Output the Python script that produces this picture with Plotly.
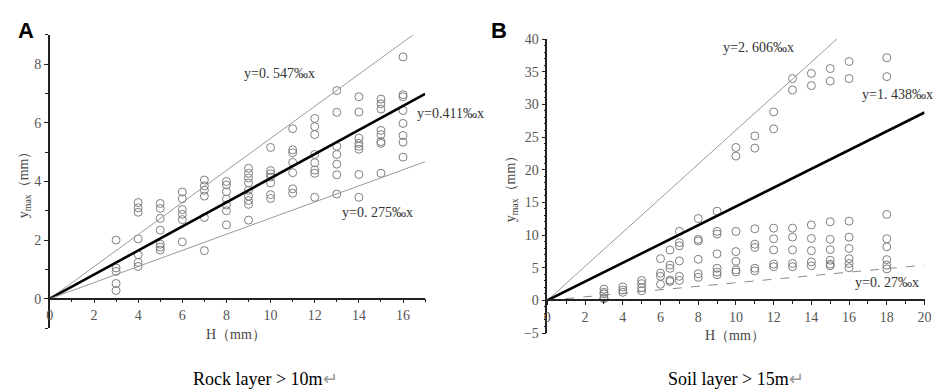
import plotly.graph_objects as go

# ---------------- data ----------------
# Panel A: Rock layer > 10m
rock_H = ([3]*5 + [4]*7 + [5]*7 + [6]*6 + [7]*6 + [8]*7 + [9]*9 + [10]*7 +
          [11]*7 + [12]*8 + [13]*7 + [14]*8 + [15]*8 + [16]*8)
rock_ymax = [2.0, 1.05, 0.93, 0.52, 0.28,
             3.28, 3.1, 2.95, 2.04, 1.5, 1.24, 1.1,
             3.25, 3.08, 2.74, 2.34, 1.86, 1.76, 1.66,
             3.64, 3.41, 3.04, 2.88, 2.70, 1.94,
             4.05, 3.85, 3.7, 3.5, 2.77, 1.64,
             4.0, 3.88, 3.65, 3.4, 3.2, 3.0, 2.52,
             4.45, 4.28, 4.12, 3.95, 3.7, 3.5, 3.35, 3.22, 2.68,
             5.16, 4.37, 4.26, 4.15, 3.95, 3.55, 3.42,
             5.8, 5.08, 4.98, 4.65, 4.3, 3.75, 3.6,
             6.15, 5.87, 5.6, 4.92, 4.64, 4.39, 4.28, 3.46,
             7.1, 6.36, 5.2, 4.92, 4.59, 4.23, 3.57,
             6.89, 6.37, 5.48, 5.3, 5.2, 5.1, 4.24, 3.46,
             6.81, 6.65, 6.47, 5.74, 5.6, 5.36, 5.3, 4.28,
             8.25, 6.96, 6.89, 6.42, 5.98, 5.57, 5.34, 4.83]
rock_slopes = [0.547, 0.411, 0.275]
rock_labels = ["y=0. 547‰x", "y=0.411‰x", "y=0. 275‰x"]

# Panel B: Soil layer > 15m
soil_H = ([3]*5 + [4]*3 + [5]*4 + [6]*4 + [6.5]*5 + [7]*6 + [8]*6 + [9]*7 +
          [10]*7 + [11]*7 + [12]*7 + [13]*7 + [14]*7 + [15]*8 + [16]*8 + [18]*8)
soil_ymax = [1.72, 1.23, 0.99, 0.4, 0.25,
             2.06, 1.58, 1.23,
             3.05, 2.56, 1.97, 1.47,
             6.39, 4.18, 3.68, 2.46,
             7.7, 5.4, 4.9, 3.1, 2.9,
             10.56, 8.84, 8.35, 6.04, 3.68, 3.05,
             12.52, 9.34, 9.09, 6.29, 4.08, 3.53,
             13.65, 10.56, 10.16, 7.13, 4.92, 4.33, 3.93,
             23.4, 22.08, 10.56, 7.47, 5.99, 4.67, 4.33,
             25.17, 23.3, 10.96, 8.6, 8.1, 4.92, 4.52,
             28.85, 26.25, 11.05, 9.43, 7.72, 5.55, 5.15,
             33.95, 32.2, 11.05, 9.68, 7.72, 5.65, 5.15,
             34.74, 32.87, 11.55, 9.48, 7.61, 5.89, 5.3,
             35.48, 33.56, 12.03, 9.34, 7.76, 6.14, 5.55, 5.3,
             36.56, 33.95, 12.13, 9.68, 7.95, 6.39, 5.65, 5.0,
             37.14, 34.25, 13.16, 9.43, 8.2, 6.24, 5.4, 4.82]
soil_slopes = [2.606, 1.438, 0.27]
soil_labels = ["y=2. 606‰x", "y=1. 438‰x", "y=0. 27‰x"]

rock_xrange = [0, 17]
rock_yrange = [-1, 9]
soil_xrange = [0, 20]
soil_yrange = [-5, 40]

# ---------------- figure ----------------
W, H = 941, 392
SERIF = "Liberation Serif, DejaVu Serif, serif"
fig = go.Figure()

def px_x(p):
    return p / W

def px_y(p):
    return 1 - p / H

marker = dict(symbol="circle-open", size=8, color="#7f7f7f", line=dict(width=1, color="#7f7f7f"))

line_styles = [dict(color="#9a9a9a", width=1),
               dict(color="#000000", width=2.6),
               dict(color="#9a9a9a", width=1)]
soil_line_styles = [dict(color="#9a9a9a", width=1),
                    dict(color="#000000", width=2.6),
                    dict(color="#8a8a8a", width=1, dash="dash")]

# panel A
fig.add_trace(go.Scatter(x=rock_H, y=rock_ymax, mode="markers", marker=marker,
                         xaxis="x", yaxis="y", showlegend=False))
for s, st in zip(rock_slopes, line_styles):
    fig.add_trace(go.Scatter(x=[0, rock_xrange[1]], y=[0, s * rock_xrange[1]], mode="lines",
                             line=st, xaxis="x", yaxis="y", showlegend=False))
# panel B
fig.add_trace(go.Scatter(x=soil_H, y=soil_ymax, mode="markers", marker=marker,
                         xaxis="x2", yaxis="y2", showlegend=False))
for s, st in zip(soil_slopes, soil_line_styles):
    fig.add_trace(go.Scatter(x=[0, soil_xrange[1]], y=[0, s * soil_xrange[1]], mode="lines",
                             line=st, xaxis="x2", yaxis="y2", showlegend=False))

# domains (pixel based)
axA_dom_x = [px_x(38.3), px_x(418)]
axA_dom_y = [px_y(325.5), px_y(20.7)]
axB_dom_x = [px_x(541.7), px_x(923.3)]
axB_dom_y = [px_y(330.7), px_y(25)]

def zero_pos(dom, rng):
    return dom[0] + (dom[1] - dom[0]) * (0 - rng[0]) / (rng[1] - rng[0])

tickfont = dict(family=SERIF, size=14, color="#555555")
common_axis = dict(showgrid=False, zeroline=False, showline=True, linecolor="#222222",
                   linewidth=1.5, ticks="outside", ticklen=4, tickcolor="#222222",
                   tickfont=tickfont)

fig.update_layout(
    width=W, height=H,
    margin=dict(l=0, r=0, t=0, b=0),
    paper_bgcolor="white", plot_bgcolor="white",
    xaxis=dict(domain=axA_dom_x, range=rock_xrange, anchor="free",
               position=zero_pos(axA_dom_y, rock_yrange),
               tickvals=[0, 2, 4, 6, 8, 10, 12, 14, 16],
               minor=dict(tickvals=[1, 3, 5, 7, 9, 11, 13, 15, 17], ticklen=3, ticks="outside",
                          tickcolor="#222222"),
               **common_axis),
    yaxis=dict(domain=axA_dom_y, range=rock_yrange, anchor="x",
               tickvals=[0, 2, 4, 6, 8],
               minor=dict(tickvals=[-1, 1, 3, 5, 7, 9], ticklen=3, ticks="outside",
                          tickcolor="#222222"),
               **common_axis),
    xaxis2=dict(domain=axB_dom_x, range=soil_xrange, anchor="free",
                position=zero_pos(axB_dom_y, soil_yrange),
                tickvals=[0, 2, 4, 6, 8, 10, 12, 14, 16, 18, 20],
                minor=dict(tickvals=[1, 3, 5, 7, 9, 11, 13, 15, 17, 19], ticklen=3,
                           ticks="outside", tickcolor="#222222"),
                **common_axis),
    yaxis2=dict(domain=axB_dom_y, range=soil_yrange, anchor="x2",
                tickvals=[-5, 0, 5, 10, 15, 20, 25, 30, 35, 40],
                minor=dict(dtick=1, tick0=0, ticklen=2, ticks="outside", tickcolor="#222222"),
                **common_axis),
)

ann = []
def add_text(x, y, text, size=14, color="#333333", family=SERIF, xanchor="center", angle=0):
    ann.append(dict(x=px_x(x), y=px_y(y), xref="paper", yref="paper", text=text,
                    showarrow=False, xanchor=xanchor, yanchor="middle", textangle=angle,
                    font=dict(family=family, size=size, color=color)))

# panel letters
add_text(4, 16, "<b>A</b>", size=22, color="#000000", family="Liberation Sans, Arial, sans-serif", xanchor="left")
add_text(483, 16, "<b>B</b>", size=22, color="#000000", family="Liberation Sans, Arial, sans-serif", xanchor="left")

# line labels
add_text(233, 61, rock_labels[0], xanchor="left")
add_text(408, 102, rock_labels[1], xanchor="left")
add_text(332, 205, rock_labels[2], xanchor="left")
add_text(717, 34, soil_labels[0], xanchor="left")
add_text(858, 83, soil_labels[1], xanchor="left")
add_text(851, 278, soil_labels[2], xanchor="left")

# axis titles
add_text(227, 332, "H（mm）", size=14, color="#444444")
add_text(732, 333, "H（mm）", size=14, color="#444444")
add_text(13, 173, "y<sub>max</sub>（mm）", size=14, color="#444444", angle=-90)
add_text(505, 177, "y<sub>max</sub>（mm）", size=14, color="#444444", angle=-90)

# captions
add_text(257, 379, "Rock layer &gt; 10m<span style='color:#999999'>↵</span>", size=18, color="#000000", family="Liberation Serif, Times New Roman, serif")
add_text(733, 379, "Soil layer &gt; 15m<span style='color:#999999'>↵</span>", size=18, color="#000000", family="Liberation Serif, Times New Roman, serif")

fig.update_layout(annotations=ann)

fig.write_html("out.html")
